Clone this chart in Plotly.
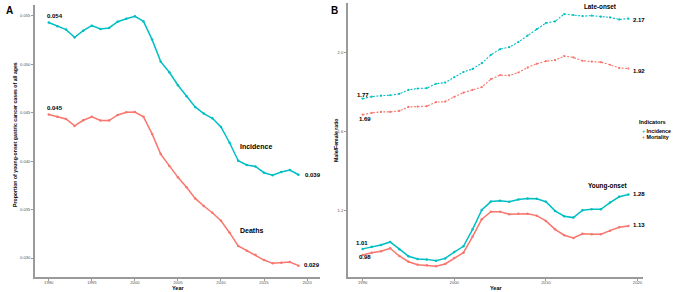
import plotly.graph_objects as go

W, H = 676, 292
years = list(range(1990, 2020))

# Panel A: proportion of young-onset gastric cancer cases of all ages
prop_incidence = [0.0543, 0.0539, 0.05356, 0.05276, 0.05345, 0.05397, 0.05363, 0.05373, 0.05438, 0.05469,
                  0.05493, 0.05441, 0.05253, 0.05026, 0.04916, 0.04782, 0.04668, 0.04559, 0.0449, 0.04441,
                  0.04352, 0.04189, 0.04003, 0.03959, 0.03945, 0.0388, 0.03853, 0.03887, 0.03907, 0.03859]
prop_deaths = [0.0448, 0.04456, 0.04435, 0.04363, 0.04421, 0.04456, 0.04418, 0.04418, 0.04476, 0.04503,
               0.04506, 0.04456, 0.0428, 0.04072, 0.03948, 0.03832, 0.03729, 0.03615, 0.03536, 0.03467,
               0.03384, 0.03261, 0.03124, 0.03075, 0.03034, 0.02979, 0.02945, 0.02952, 0.02959, 0.02921]

# Panel B: male/female ratio
late_incidence = [1.767, 1.777, 1.782, 1.784, 1.791, 1.811, 1.818, 1.820, 1.842, 1.848,
                  1.875, 1.901, 1.917, 1.946, 1.988, 2.017, 2.027, 2.053, 2.085, 2.118,
                  2.149, 2.157, 2.194, 2.189, 2.184, 2.186, 2.181, 2.177, 2.167, 2.171]
late_mortality = [1.686, 1.695, 1.700, 1.700, 1.705, 1.725, 1.727, 1.729, 1.749, 1.752,
                  1.776, 1.797, 1.811, 1.825, 1.865, 1.886, 1.884, 1.899, 1.924, 1.943,
                  1.956, 1.961, 1.982, 1.975, 1.958, 1.954, 1.951, 1.938, 1.922, 1.919]
young_incidence = [1.008, 1.019, 1.028, 1.043, 1.006, 0.971, 0.957, 0.955, 0.948, 0.960,
                   0.992, 1.021, 1.107, 1.205, 1.247, 1.251, 1.246, 1.257, 1.262, 1.261,
                   1.246, 1.200, 1.173, 1.166, 1.203, 1.208, 1.208, 1.242, 1.271, 1.283]
young_mortality = [0.977, 0.989, 0.996, 1.011, 0.972, 0.943, 0.928, 0.925, 0.920, 0.932,
                   0.962, 0.989, 1.070, 1.158, 1.196, 1.195, 1.183, 1.186, 1.186, 1.176,
                   1.149, 1.107, 1.077, 1.063, 1.084, 1.082, 1.082, 1.100, 1.117, 1.124]

TEAL = "#00BFC4"
RED = "#F8766D"
FONT = "Liberation Sans, Arial, sans-serif"
AXC = "#9a9a9a"

fig = go.Figure()

def line(x, y, color, xa, ya, dash="solid", width=1.5, msize=2.5):
    fig.add_trace(go.Scatter(x=x, y=y, mode="lines+markers", xaxis=xa, yaxis=ya,
                             line=dict(color=color, width=width, dash=dash),
                             marker=dict(color=color, size=msize), showlegend=False,
                             hoverinfo="skip"))

line(years, prop_incidence, TEAL, "x", "y")
line(years, prop_deaths, RED, "x", "y")
line(years, late_incidence, TEAL, "x2", "y2", dash="2px,1.5px", width=1.1, msize=2.2)
line(years, late_mortality, RED, "x2", "y2", dash="2px,1.5px", width=1.1, msize=2.2)
line(years, young_incidence, TEAL, "x2", "y2")
line(years, young_mortality, RED, "x2", "y2")

def px_x(p):
    return p / W

def px_y(p):
    return 1 - p / H

axis_common = dict(showgrid=False, zeroline=False, showline=True, linecolor=AXC, linewidth=1.5,
                   ticks="outside", ticklen=2, tickcolor=AXC, tickwidth=1,
                   tickfont=dict(size=4.2, color="#555555", family=FONT))

fig.update_layout(
    width=W, height=H, margin=dict(l=0, r=0, t=0, b=0),
    paper_bgcolor="white", plot_bgcolor="white", showlegend=False,
    xaxis=dict(domain=[px_x(35), px_x(320)], range=[1988.4, 2021.5], anchor="y",
               tickvals=[1990, 1995, 2000, 2005, 2010, 2015, 2020], ticklabelstandoff=-2, **axis_common),
    yaxis=dict(domain=[px_y(277), px_y(5)], range=[0.02804, 0.0561], anchor="x",
               tickvals=[0.030, 0.035, 0.040, 0.045, 0.050, 0.055], tickformat=".3f", **axis_common),
    xaxis2=dict(domain=[px_x(348), px_x(643)], range=[1988.4, 2020.6], anchor="y2",
                tickvals=[1990, 2000, 2010, 2020], ticklabelstandoff=-2, **axis_common),
    yaxis2=dict(domain=[px_y(277), px_y(3)], range=[0.866, 2.25], anchor="x2",
                tickvals=[1.2, 1.6, 2.0], tickformat=".1f", **axis_common),
)

def ann(text, x, y, size, xanchor="left", color="black", bold=True, textangle=0):
    fig.add_annotation(text=("<b>%s</b>" % text) if bold else text,
                       x=px_x(x), y=px_y(y), xref="paper", yref="paper",
                       xanchor=xanchor, yanchor="middle", showarrow=False, textangle=textangle,
                       font=dict(size=size, color=color, family=FONT))

# panel letters
ann("A", 4, 10, 10)
ann("B", 329, 10, 10)

# axis titles
ann("Proportion of young-onset gastric cancer cases of all ages", 15, 135, 5.2, xanchor="center", textangle=-90)
ann("Year", 178, 287.5, 5.5, xanchor="center")
ann("Male/Female ratio", 336, 140, 5.2, xanchor="center", textangle=-90)
ann("Year", 496, 287.5, 5.5, xanchor="center")

# Panel A labels
ann("%.3f" % 0.054, 45, 16, 6)
ann("%.3f" % 0.045, 45, 108, 6)
ann("%.3f" % 0.039, 303, 175, 6)
ann("%.3f" % 0.029, 302, 265, 6)
ann("Incidence", 238, 146, 7)
ann("Deaths", 238, 230, 7)

# Panel B labels
ann("Late-onset", 582, 7, 6.3)
ann("Young-onset", 586, 186, 6.4)
ann("1.77", 355, 95, 6)
ann("1.69", 357, 119, 6)
ann("2.17", 631, 20, 6)
ann("1.92", 631, 71, 6)
ann("1.28", 631, 194, 6)
ann("1.13", 631, 225, 6)
ann("1.01", 354, 243, 6)
ann("0.98", 357, 257, 6)

# Legend (manual)
ann("Indicators", 637, 122, 5.6)
ann('<span style="color:%s">+</span> Incidence' % TEAL, 640, 131, 5.3)
ann('<span style="color:%s">+</span> Mortality' % RED, 640, 137.5, 5.3)

fig.write_html("out.html", config={"displayModeBar": False},
               post_script="document.body.style.margin='0';document.body.style.padding='0';"
                           "document.body.style.overflow='hidden';")
